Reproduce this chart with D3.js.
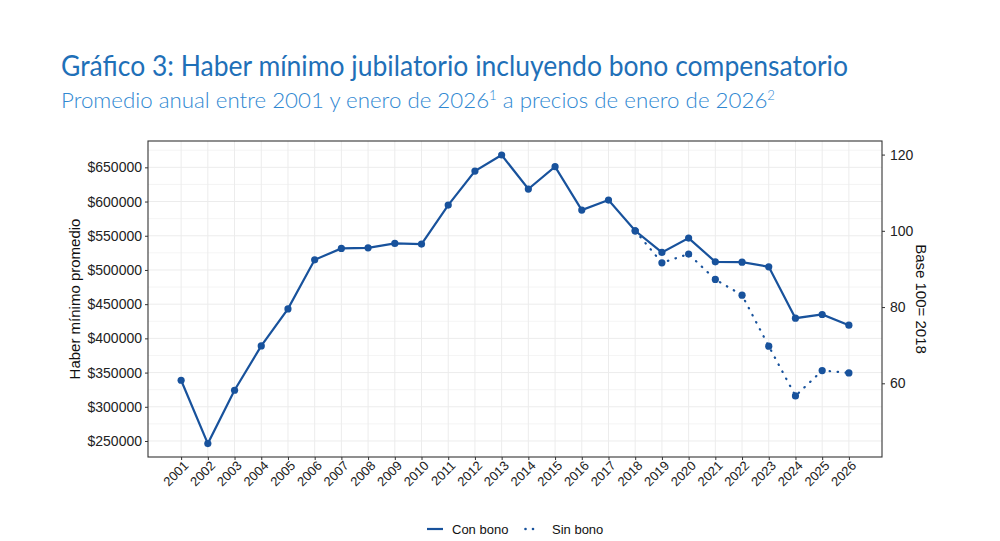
<!DOCTYPE html>
<html>
<head>
<meta charset="utf-8">
<script src="https://cdn.jsdelivr.net/npm/d3@7"></script>
<style>
  body { margin: 0; background: #fff; }
  svg { display: block; }
</style>
</head>
<body>
<div id="chart"></div>
<script>
// Datos (pesos de enero de 2026)
const years = ["2001","2002","2003","2004","2005","2006","2007","2008","2009","2010","2011","2012","2013",
               "2014","2015","2016","2017","2018","2019","2020","2021","2022","2023","2024","2025","2026"];
const conBono = [338800, 246200, 324200, 389000, 443100, 514800, 531500, 532400, 538800, 537800, 594800, 644600, 668000,
                 618300, 650900, 587500, 602200, 557200, 525600, 546600, 511900, 511400, 504600, 429500, 434900, 419300];
const sinBono = [null, null, null, null, null, null, null, null, null, null, null, null, null,
                 null, null, null, null, 557200, 510400, 523200, 486100, 463200, 388600, 315900, 353000, 349500];
const leftTicks = [250000, 300000, 350000, 400000, 450000, 500000, 550000, 600000, 650000];
const rightTicks = [60, 80, 100, 120];
const baseYear = "2018";

const w = 1000, h = 541;
const margin = { top: 141, right: 118, bottom: 84, left: 148 };
const blue = "#18529c";

const svg = d3.select("#chart").append("svg")
  .attr("width", w)
  .attr("height", h)
  .style("font-family", "'Liberation Sans', Arial, sans-serif");

// Títulos
svg.append("text")
  .attr("x", 61).attr("y", 76)
  .attr("fill", "#1f70b8")
  .attr("font-family", "Lato, 'Open Sans', sans-serif")
  .attr("font-size", 28)
  .attr("textLength", 787).attr("lengthAdjust", "spacingAndGlyphs")
  .text("Gráfico 3: Haber mínimo jubilatorio incluyendo bono compensatorio");

const sub = svg.append("text")
  .attr("x", 61).attr("y", 108)
  .attr("fill", "#3088d2")
  .attr("font-family", "Lato, 'Open Sans', sans-serif")
  .attr("font-weight", 300)
  .attr("font-size", 22)
  .attr("textLength", 714).attr("lengthAdjust", "spacingAndGlyphs");
sub.append("tspan").text("Promedio anual entre 2001 y enero de 2026");
sub.append("tspan").attr("dy", -8).attr("font-size", 13).text("1");
sub.append("tspan").attr("dy", 8).text(" a precios de enero de 2026");
sub.append("tspan").attr("dy", -8).attr("font-size", 13).text("2");

// Escalas
const x = d3.scalePoint().domain(years)
  .range([margin.left, w - margin.right]).padding(1.24);
const y = d3.scaleLinear().domain([226600, 688500])
  .range([h - margin.bottom, margin.top]);
const base = conBono[years.indexOf(baseYear)];
const yR = d3.scaleLinear().domain([226600 / base * 100, 688500 / base * 100])
  .range([h - margin.bottom, margin.top]);

// Panel y grilla
svg.append("rect")
  .attr("x", margin.left).attr("y", margin.top)
  .attr("width", w - margin.left - margin.right)
  .attr("height", h - margin.top - margin.bottom)
  .attr("fill", "#fff");

const minor = d3.range(225000, 700001, 25000).filter(v => v > y.domain()[0] && v < y.domain()[1]);
svg.append("g").selectAll("line").data(minor).join("line")
  .attr("x1", margin.left).attr("x2", w - margin.right)
  .attr("y1", d => y(d)).attr("y2", d => y(d))
  .attr("stroke", "#ececec")
  .attr("stroke-width", d => d % 50000 === 0 ? 1 : 0.6);

svg.append("g").selectAll("line").data(years).join("line")
  .attr("x1", d => x(d)).attr("x2", d => x(d))
  .attr("y1", margin.top).attr("y2", h - margin.bottom)
  .attr("stroke", "#ececec");

svg.append("rect")
  .attr("x", margin.left).attr("y", margin.top)
  .attr("width", w - margin.left - margin.right)
  .attr("height", h - margin.top - margin.bottom)
  .attr("fill", "none").attr("stroke", "#333").attr("stroke-width", 1.1);

// Ejes
const axL = svg.append("g").attr("transform", `translate(${margin.left},0)`)
  .call(d3.axisLeft(y).tickValues(leftTicks).tickSize(3).tickPadding(3).tickFormat(d => "$" + d));
const axR = svg.append("g").attr("transform", `translate(${w - margin.right},0)`)
  .call(d3.axisRight(yR).tickValues(rightTicks).tickSize(3).tickPadding(5));
const axB = svg.append("g").attr("transform", `translate(0,${h - margin.bottom})`)
  .call(d3.axisBottom(x).tickSize(3).tickPadding(2));

[axL, axR, axB].forEach(a => {
  a.select(".domain").remove();
  a.selectAll(".tick line").attr("stroke", "#333");
  a.selectAll("text").attr("fill", "#222").attr("font-size", 14)
    .style("font-family", "'Liberation Sans', Arial, sans-serif");
});
axB.selectAll("text")
  .attr("font-size", 13)
  .attr("text-anchor", "end")
  .attr("dx", "-0.1em").attr("dy", "0.55em")
  .attr("transform", "rotate(-45)");

svg.append("text")
  .attr("transform", "rotate(-90)")
  .attr("x", -(margin.top + (h - margin.bottom)) / 2).attr("y", 80)
  .attr("text-anchor", "middle").attr("font-size", 15).attr("fill", "#111")
  .text("Haber mínimo promedio");
svg.append("text")
  .attr("transform", "rotate(90)")
  .attr("x", (margin.top + (h - margin.bottom)) / 2).attr("y", -916)
  .attr("text-anchor", "middle").attr("font-size", 15).attr("fill", "#111")
  .text("Base 100= 2018");

// Series
const rows = years.map((yr, i) => ({ yr, con: conBono[i], sin: sinBono[i] }));
const lineCon = d3.line().x(d => x(d.yr)).y(d => y(d.con));
const lineSin = d3.line().defined(d => d.sin != null).x(d => x(d.yr)).y(d => y(d.sin));

svg.append("path").datum(rows)
  .attr("fill", "none").attr("stroke", blue).attr("stroke-width", 2.2)
  .attr("stroke-dasharray", "0.5,7.5").attr("stroke-linecap", "round")
  .attr("d", lineSin);
svg.append("path").datum(rows)
  .attr("fill", "none").attr("stroke", blue).attr("stroke-width", 2.2)
  .attr("d", lineCon);

svg.append("g").selectAll("circle").data(rows.filter(d => d.sin != null)).join("circle")
  .attr("cx", d => x(d.yr)).attr("cy", d => y(d.sin)).attr("r", 3.6).attr("fill", blue);
svg.append("g").selectAll("circle").data(rows).join("circle")
  .attr("cx", d => x(d.yr)).attr("cy", d => y(d.con)).attr("r", 3.6).attr("fill", blue);

// Leyenda
const lg = svg.append("g").attr("transform", "translate(427,529)");
lg.append("line").attr("x1", 0).attr("x2", 16).attr("y1", 0).attr("y2", 0)
  .attr("stroke", blue).attr("stroke-width", 2.2);
lg.append("text").attr("x", 25).attr("y", 5).attr("font-size", 13).attr("fill", "#111").text("Con bono");
lg.selectAll(".ldot").data([98.5, 106]).join("circle")
  .attr("cx", d => d).attr("cy", 0).attr("r", 1.3).attr("fill", blue);
lg.append("text").attr("x", 125).attr("y", 5).attr("font-size", 13).attr("fill", "#111").text("Sin bono");
</script>
</body>
</html>
